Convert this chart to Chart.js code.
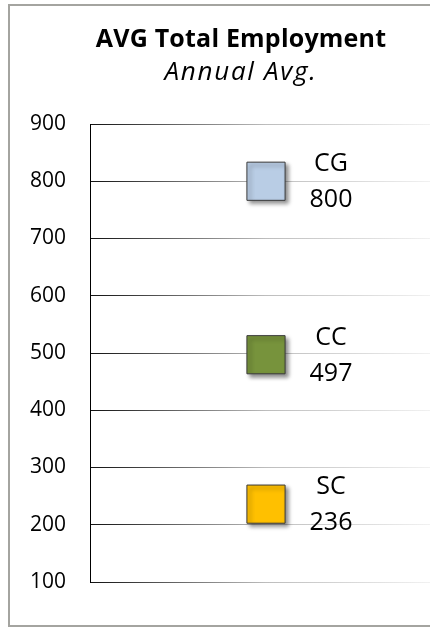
<!DOCTYPE html>
<html>
<head>
<meta charset="utf-8">
<script src="https://cdn.jsdelivr.net/npm/chart.js@4"></script>
<style>
  html, body { margin: 0; padding: 0; background: #fff; width: 430px; height: 627px; overflow: hidden; position: relative; }
  #frame {
    position: absolute; left: 8px; top: 4px; width: 460px; height: 619px;
    border-left: 2px solid #a4a4a0; border-top: 2px solid #a4a4a0; border-bottom: 2px solid #a4a4a0;
  }
  #chart { display: block; }
  #title {
    position: absolute; left: 0; top: 21px; width: 482px; text-align: center;
    font-family: "Open Sans", sans-serif; color: #000; line-height: 33px;
  }
  #title .main { font-size: 25px; font-weight: bold; letter-spacing: 0.2px; }
  #title .sub { font-size: 26px; font-style: italic; letter-spacing: 1.7px; }
</style>
</head>
<body>
<div id="frame"><canvas id="chart" width="440" height="619"></canvas></div>
<div id="title">
  <div class="main">AVG Total Employment</div>
  <div class="sub">Annual Avg.</div>
</div>
<script>
// data
const names = ['CG', 'CC', 'SC'];
const values = [800, 497, 236];
const fills = ['#b9cde5', '#77933c', '#ffc000'];
const xLabels = ['Annual Avg.'];
const yMin = 100, yMax = 900, yStep = 100;

const ctx = document.getElementById('chart').getContext('2d');

// drop shadow on the squares
const shadowPlugin = {
    id: 'shadow',
    beforeDatasetDraw(chart) {
        const c = chart.ctx;
        c.save();
        c.shadowColor = 'rgba(0,0,0,0.45)';
        c.shadowBlur = 4;
        c.shadowOffsetX = 3;
        c.shadowOffsetY = 3;
    },
    afterDatasetDraw(chart) {
        chart.ctx.restore();
    }
};

// name above, value below, to the right of each square
const labelPlugin = {
    id: 'pointLabels',
    afterDatasetsDraw(chart) {
        const c = chart.ctx;
        c.save();
        c.fillStyle = '#000';
        c.font = '25px "Open Sans"';
        c.textAlign = 'center';
        c.textBaseline = 'alphabetic';
        chart.data.datasets.forEach((ds, i) => {
            const pt = chart.getDatasetMeta(i).data[0];
            c.fillText(names[i], pt.x + 65, pt.y - 10);
            c.fillText(String(values[i]), pt.x + 65, pt.y + 26);
        });
        c.restore();
    }
};

const datasets = names.map((n, i) => ({
    label: n,
    data: [{ x: xLabels[0], y: values[i] }],
    backgroundColor: fills[i],
    borderColor: '#3a3a3a',
    borderWidth: 1,
    pointStyle: 'rect',
    pointRadius: 27,
    pointHoverRadius: 27,
    showLine: false
}));

new Chart(ctx, {
    type: 'line',
    data: { labels: xLabels, datasets: datasets },
    plugins: [shadowPlugin, labelPlugin],
    options: {
        responsive: false,
        animation: false,
        layout: { autoPadding: false, padding: { left: 0, right: 8, top: 118, bottom: 43 } },
        plugins: {
            legend: { display: false },
            tooltip: { enabled: false }
        },
        scales: {
            x: {
                type: 'category',
                offset: true,
                display: false
            },
            y: {
                min: yMin,
                max: yMax,
                afterFit(scale) { scale.width = 80; },
                ticks: {
                    stepSize: yStep,
                    color: '#000',
                    padding: 24,
                    font: { family: '"Open Sans"', size: 21 }
                },
                border: { display: true, color: '#000', width: 1 },
                grid: {
                    drawTicks: false,
                    lineWidth: 1,
                    color(c) {
                        const area = c.chart.chartArea;
                        if (!area) return '#888';
                        const g = c.chart.ctx.createLinearGradient(area.left, 0, area.right, 0);
                        g.addColorStop(0, '#111111');
                        g.addColorStop(0.5, '#bdbdbd');
                        g.addColorStop(1, '#f5f5f5');
                        return g;
                    }
                }
            }
        }
    }
});
</script>
</body>
</html>
